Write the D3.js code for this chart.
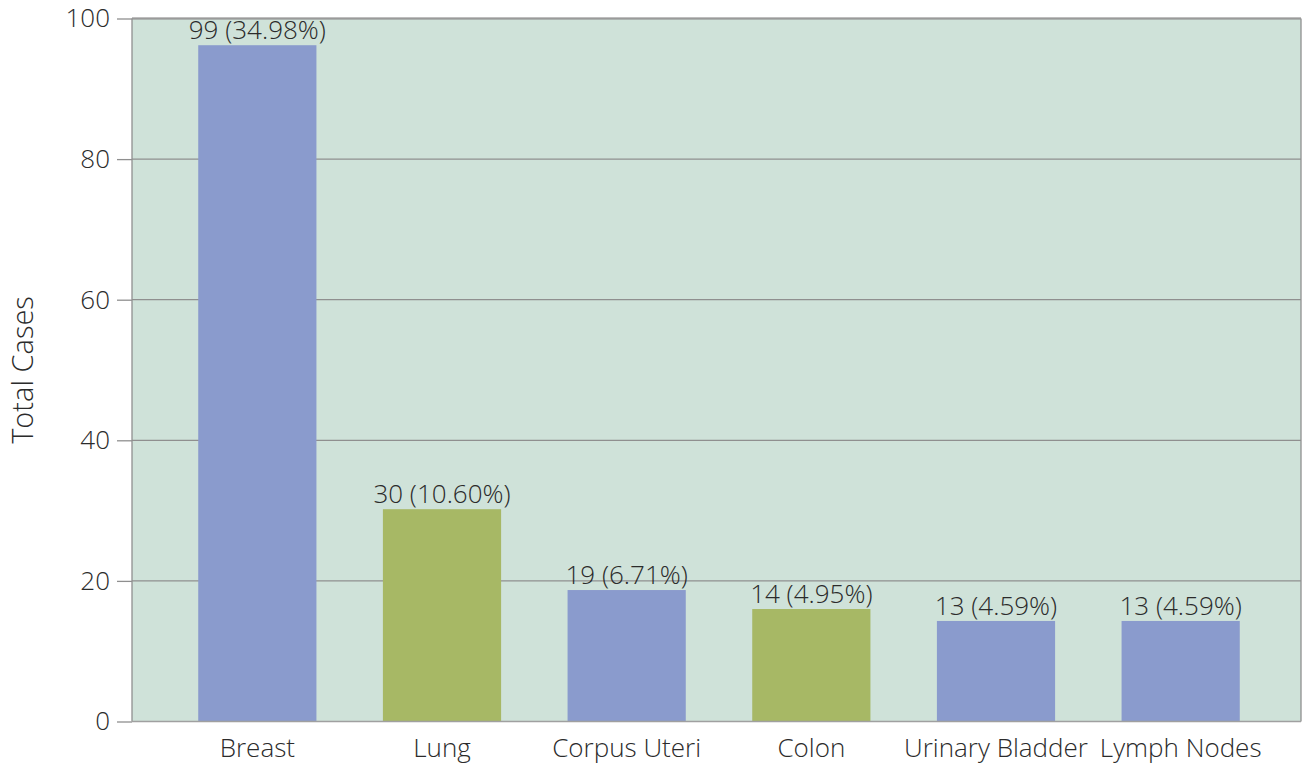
<!DOCTYPE html>
<html><head><meta charset="utf-8">
<script src="https://cdn.jsdelivr.net/npm/d3@7"></script>
<style>
html,body{margin:0;padding:0;background:#fff;}
svg text{font-family:"Open Sans",sans-serif;font-weight:300;fill:#2b2b2b;}
</style></head>
<body><svg id="c" width="1302" height="767"></svg>
<script>
const categories = ["Breast","Lung","Corpus Uteri","Colon","Urinary Bladder","Lymph Nodes"];
const values = [96.2, 30.2, 18.7, 16.0, 14.3, 14.3];
const valueLabels = ["99 (34.98%)","30 (10.60%)","19 (6.71%)","14 (4.95%)","13 (4.59%)","13 (4.59%)"];
const colorGroup = ["blue","green","blue","green","blue","blue"];
const yTicks = [0,20,40,60,80,100];
const yTitle = "Total Cases";

const svg = d3.select("#c");
const L = 132, R = 1301, T = 18.5, B = 721.5;
const palette = {blue:"#8a9bcd", green:"#a7b865"};

const y = d3.scaleLinear().domain([0,100]).range([B,T]);
const x = d3.scaleBand().domain(categories).range([165,1273]).paddingInner(0.36).paddingOuter(0.18);

svg.append("rect").attr("x",L).attr("y",T).attr("width",R-L).attr("height",B-T).attr("fill","#cfe2d9");

// gridlines
svg.append("g").selectAll("line").data(yTicks.filter(d=>d>0)).join("line")
  .attr("x1",L).attr("x2",R).attr("y1",d=>y(d)).attr("y2",d=>y(d))
  .attr("stroke","#8f8f8f").attr("stroke-width",1.3);

// borders
svg.append("line").attr("x1",R).attr("x2",R).attr("y1",T).attr("y2",B).attr("stroke","#8f8f8f").attr("stroke-width",1.3);
svg.append("line").attr("x1",L).attr("x2",R).attr("y1",T).attr("y2",T).attr("stroke","#9a9a9a").attr("stroke-width",2);

// bars
svg.append("g").selectAll("rect").data(categories).join("rect")
  .attr("x",d=>x(d)).attr("width",x.bandwidth())
  .attr("y",(d,i)=>y(values[i])).attr("height",(d,i)=>B-y(values[i]))
  .attr("fill",(d,i)=>palette[colorGroup[i]]);

// value labels
svg.append("g").selectAll("text").data(categories).join("text")
  .attr("x",d=>x(d)+x.bandwidth()/2).attr("y",(d,i)=>y(values[i])-6)
  .attr("text-anchor","middle").attr("font-size",26)
  .text((d,i)=>valueLabels[i]);

// y axis
const yAxis = svg.append("g").attr("transform",`translate(${L},0)`)
  .call(d3.axisLeft(y).tickValues(yTicks).tickSize(15).tickPadding(7));
yAxis.select(".domain").attr("stroke","#8f8f8f").attr("stroke-width",1.3).attr("d",`M0,${T}V${B}`);
yAxis.selectAll(".tick line").attr("stroke","#8f8f8f").attr("stroke-width",1.3);
yAxis.selectAll(".tick text").attr("font-size",26).attr("font-family","Open Sans").attr("font-weight",300).attr("fill","#2b2b2b");

// x axis
const xAxis = svg.append("g").attr("transform",`translate(0,${B})`)
  .call(d3.axisBottom(x).tickSize(0).tickPadding(17));
xAxis.select(".domain").attr("stroke","#a0a0a0").attr("stroke-width",1.5).attr("d",`M${L},0H${R}`);
xAxis.selectAll(".tick text").attr("font-size",26).attr("font-family","Open Sans").attr("font-weight",300).attr("fill","#2b2b2b");

// y title
svg.append("text").attr("transform","translate(33,370) rotate(-90)")
  .attr("text-anchor","middle").attr("font-size",29).attr("font-weight",400).attr("fill","#1e1e1e").text(yTitle);
</script></body></html>
